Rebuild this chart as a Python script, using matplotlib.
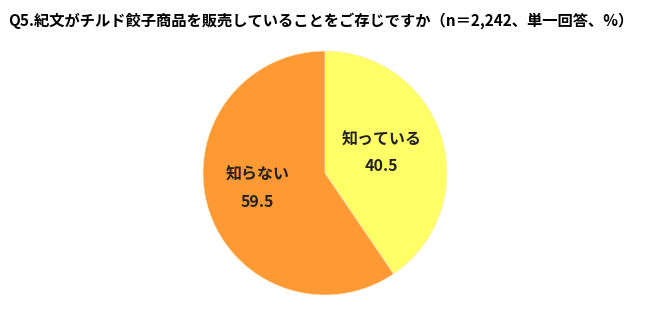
import numpy as np
import matplotlib
matplotlib.use("Agg")
import matplotlib.pyplot as plt

plt.rcParams["font.family"] = ["Noto Sans CJK JP", "DejaVu Sans"]

# Daten der Grafik
title = "Q5.紀文がチルド餃子商品を販売していることをご存じですか（n＝2,242、単一回答、%）"
labels = ["知っている", "知らない"]
values = [40.5, 59.5]
colors = ["#FFFF66", "#FF9933"]

# Position der Beschriftungen (Abstand vom Mittelpunkt, Winkelversatz in Grad)
label_dist = [0.49, 0.565]
label_shift = [2.5, -4.5]

fig = plt.figure(figsize=(6.5, 3.16), dpi=100)
fig.text(0.012, 0.935, title, fontsize=11.0, fontweight="bold", va="center", ha="left")

# Kreisdiagramm in einer exakt platzierten Achse
ax = fig.add_axes([0.3123, 0.0665, 0.3754, 0.772])
wedges, _ = ax.pie(values, colors=colors, startangle=90, counterclock=False,
                   radius=1.0, wedgeprops={"linewidth": 0.5, "edgecolor": "#FFE9C0"})
ax.set_xlim(-1, 1)
ax.set_ylim(-1, 1)
ax.set_aspect("equal")
ax.axis("off")

# Beschriftungen in der Mitte der Segmente
for w, lab, v, d, s in zip(wedges, labels, values, label_dist, label_shift):
  ang = np.deg2rad((w.theta1 + w.theta2) / 2 + s)
  x = d * np.cos(ang)
  y = d * np.sin(ang)
  ax.text(x, y, "%s\n%.1f" % (lab, v), ha="center", va="center",
          fontsize=11.5, fontweight="bold", color="#222222", linespacing=1.85)

fig.savefig("out.png", dpi=100)
